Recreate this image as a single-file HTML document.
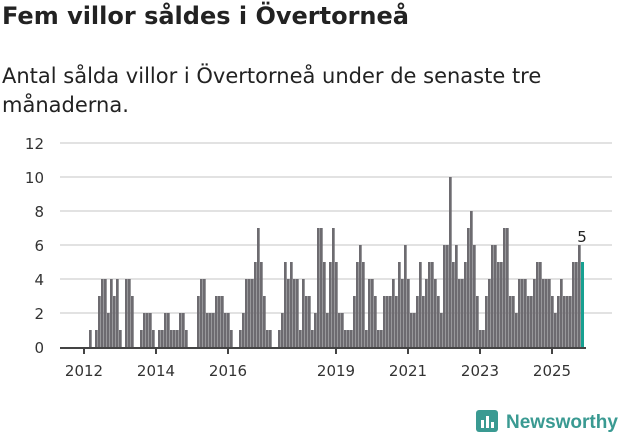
<!DOCTYPE html>
<html><head><meta charset="utf-8">
<style>
body{margin:0;background:#fff;font-family:"DejaVu Sans","Liberation Sans",sans-serif;}
#wrap{position:relative;width:631px;height:439px;overflow:hidden;}
h1{position:absolute;left:2px;top:2px;margin:0;font-size:24px;font-weight:bold;color:#222;white-space:nowrap;}
p{position:absolute;left:2px;top:62px;margin:0;font-size:21px;line-height:29px;color:#222;width:580px;}
</style></head><body>
<div id="wrap">
<h1>Fem villor såldes i Övertorneå</h1>
<p>Antal sålda villor i Övertorneå under de senaste tre<br>månaderna.</p>
<svg id="chart" width="631" height="439" style="position:absolute;left:0;top:0">
<g id="logo">
<rect x="476" y="410" width="22" height="22" rx="3" fill="#3a9a92"/>
<rect x="481" y="420" width="3" height="8" fill="#fff"/><rect x="486" y="416" width="3" height="12" fill="#fff"/><rect x="491" y="422" width="3" height="6" fill="#fff"/>
<text x="506" y="428" font-size="19" font-weight="bold" fill="#3a9a92" font-family="Liberation Sans, sans-serif">Newsworthy</text>
</g>
</svg>
</div>
<script>
const yTicks=[0,2,4,6,8,10,12];
const xYears=[2012,2014,2016,2019,2021,2023,2025];
const values=[1,0,1,3,4,4,2,4,3,4,1,0,4,4,3,0,0,1,2,2,2,1,0,1,1,2,2,1,1,1,2,2,1,0,0,0,3,4,4,2,2,2,3,3,3,2,2,1,
0,0,1,2,4,4,4,5,7,5,3,1,1,0,0,1,2,5,4,5,4,4,1,4,3,3,1,2,7,7,5,2,5,7,5,2,2,1,1,1,3,5,6,5,1,4,4,3,1,1,3,3,3,4,3,5,4,6,4,
2,2,3,5,3,4,5,5,4,3,2,6,6,10,5,6,4,4,5,7,8,6,3,1,1,3,4,6,6,5,5,7,7,3,3,2,4,4,4,3,3,4,5,5,4,4,4,3,2,3,4,3,3,3,5,5,6,5];
const NS='http://www.w3.org/2000/svg';
const svg=document.getElementById('chart');
const y=v=>347-17*v;
const xi=i=>89+3*i;
const xy=yr=>84+(yr-2012)*36;
function mk(t,a){const e=document.createElementNS(NS,t);for(const k in a)e.setAttribute(k,a[k]);svg.appendChild(e);return e;}
yTicks.forEach(v=>{
 if(v>0){const g=mk('line',{x1:60,x2:612,y1:y(v),y2:y(v),stroke:'#e2e2e2','stroke-width':2});
 
 }
 const t=mk('text',{x:44,y:y(v)+6,'text-anchor':'end','font-size':15,fill:'#333'});t.textContent=v;
 
 
});
values.forEach((v,i)=>{
 if(v<=0)return;
 const last=i===values.length-1;
 const r=mk('rect',{x:xi(i),y:y(v),width:last?3:2.7,height:17*v,fill:last?'#17a091':'#6d6b70'});
 
 
});
const li=values.length-1;
const labTop=Math.max(values[li],values[li-1]);
const lab=mk('text',{x:xi(li)+1,y:y(labTop)-3,'text-anchor':'middle','font-size':15,fill:'#222'});lab.textContent=values[li];


const ax=mk('line',{x1:60,x2:586,y1:348,y2:348,stroke:'#444','stroke-width':2});


xYears.forEach(yr=>{
 const tk=mk('line',{x1:xy(yr),x2:xy(yr),y1:348,y2:354,stroke:'#444','stroke-width':2});
 
 
 const t=mk('text',{x:xy(yr),y:376,'text-anchor':'middle','font-size':15,fill:'#333'});t.textContent=yr;
 
 
});
</script>
</body></html>
